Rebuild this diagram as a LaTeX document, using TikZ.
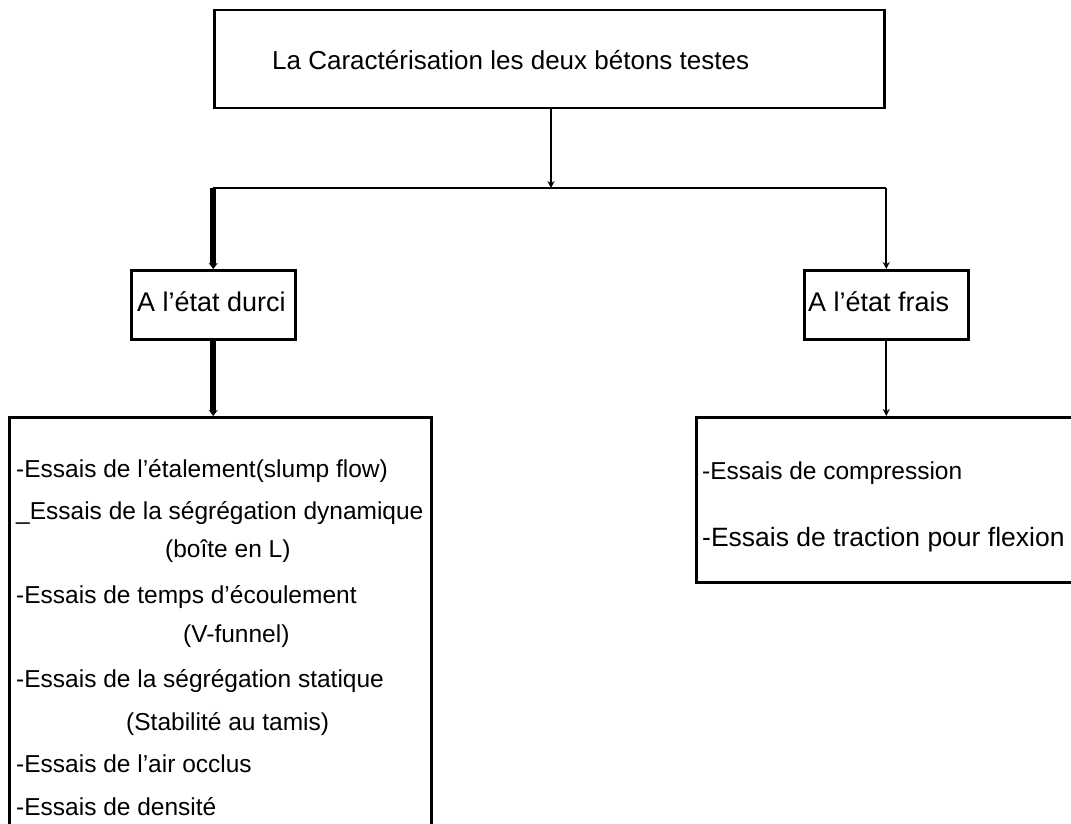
\documentclass[tikz,border=0pt]{standalone}
\usepackage{fontspec}
\setmainfont{Liberation Sans}
\usetikzlibrary{arrows.meta}
\begin{document}
\begin{tikzpicture}[x=1pt,y=-1pt,
  box/.style={draw, line width=2.5pt, inner sep=0pt, anchor=north west},
  conn/.style={line width=2pt, -{Stealth[length=7pt,width=7pt]}},
  thinline/.style={line width=2pt},
  thickconn/.style={line width=6pt, -{Stealth[length=6pt,width=9pt]}},
  txt/.style={inner sep=0pt, anchor=base west, font=\fontsize{24.5}{29}\selectfont},
  ttltxt/.style={inner sep=0pt, anchor=base west, font=\fontsize{26}{31}\selectfont},
  smalltxt/.style={inner sep=0pt, anchor=base west, font=\fontsize{27}{32}\selectfont}
]
\useasboundingbox (0,0) rectangle (1071,824);
\clip (0,0) rectangle (1071,824);

% boxes
\node[box, minimum width=670pt, minimum height=98pt] (top) at (213,9) {};
\node[box, minimum width=164pt, minimum height=69pt] (durci) at (130,269) {};
\node[box, minimum width=164pt, minimum height=69pt] (frais) at (803,269) {};
\node[box, minimum width=422pt, minimum height=430pt] (hard) at (8,416) {};
\node[box, minimum width=400pt, minimum height=165pt] (fresh) at (695,416) {};

% texts
\node[ttltxt] (ttl) at (272,70) {La Caractérisation les deux bétons testes};
\node[smalltxt] (tdurci) at (137,311) {A l'état durci};
\node[smalltxt] (tfrais) at (808,311) {A l'état frais};

\node[txt] (l1) at (16,477) {-Essais de l'étalement(slump flow)};
\node[txt] (l2) at (16,519) {\_Essais de la ségrégation dynamique};
\node[txt] (l2b) at (165,557) {(boîte en L)};
\node[txt] (l3) at (16,603) {-Essais de temps d'écoulement};
\node[txt] (l3b) at (183,642) {(V-funnel)};
\node[txt] (l4) at (16,687) {-Essais de la ségrégation statique};
\node[txt] (l4b) at (126,730) {(Stabilité au tamis)};
\node[txt] (l5) at (16,772) {-Essais de l'air occlus};
\node[txt] (l6) at (16,815) {-Essais de densité};

\node[txt] (r1) at (702,479) {-Essais de compression};
\node[txt, font=\fontsize{26.5}{31}\selectfont] (r2) at (702,546) {-Essais de traction pour flexion};

% connectors
\coordinate (J) at (551,188);
\draw[conn] (top.south -| J) -- (J);
\draw[thinline] (durci.north |- J) -- (frais.north |- J);
\draw[thickconn] (durci.north |- J) -- (durci.north);
\draw[conn] (frais.north |- J) -- (frais.north);
\draw[thickconn] (durci.south) -- (durci.south |- hard.north);
\draw[conn] (frais.south) -- (frais.south |- fresh.north);
\end{tikzpicture}
\end{document}
